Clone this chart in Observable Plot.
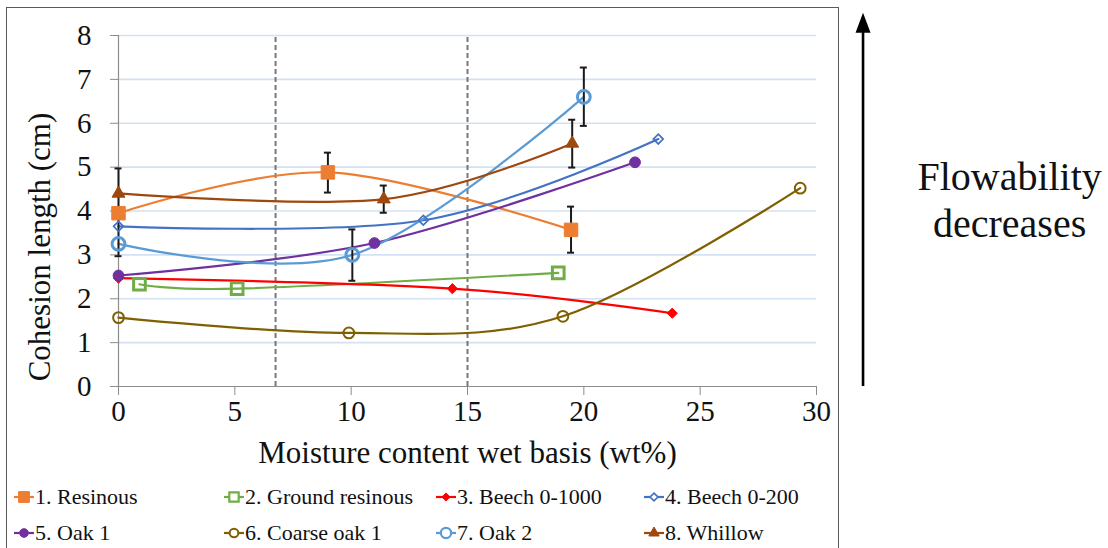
<!DOCTYPE html>
<html>
<head>
<meta charset="utf-8">
<script src="https://cdn.jsdelivr.net/npm/d3@7"></script>
<script src="https://cdn.jsdelivr.net/npm/@observablehq/plot@0.6"></script>
<style>
  body { margin: 0; background: #fff; }
  #wrap { position: relative; width: 1108px; height: 548px; overflow: hidden; font-family: 'Liberation Serif', 'Times New Roman', Times, 'DejaVu Serif', serif; }
  #chart { position: absolute; left: 0; top: 0; }
  #frame { position: absolute; left: 6px; top: 7px; width: 833px; height: 620px; border: 1px solid #5a5a5a; box-sizing: border-box; pointer-events: none; }
  #legend { position: absolute; left: 0; top: 0; width: 840px; height: 548px; }
  .item { position: absolute; display: flex; align-items: center; height: 26px; font-size: 22px; color: #111; white-space: nowrap; }
  .item svg { display: block; margin-right: 1px; }
</style>
</head>
<body>
<div id="wrap">
  <div id="chart"></div>
  <div id="legend"></div>
  <div id="frame"></div>
</div>
<script>
// ---------- data ----------
const xTicks = [0, 5, 10, 15, 20, 25, 30];
const yTicks = [0, 1, 2, 3, 4, 5, 6, 7, 8];
const dividers = [6.75, 15];

const names = ["1. Resinous", "2. Ground resinous", "3. Beech 0-1000", "4. Beech 0-200",
               "5. Oak 1", "6. Coarse oak 1", "7. Oak 2", "8. Whillow"];

const resinousX = [0, 9, 19.45];
const resinousY = [3.95, 4.88, 3.57];
const groundResinousX = [0.9, 5.1, 18.9];
const groundResinousY = [2.33, 2.23, 2.59];
const beech1000X = [0, 14.35, 23.8];
const beech1000Y = [2.47, 2.23, 1.67];
const beech200X = [0, 13.1, 23.2];
const beech200Y = [3.65, 3.79, 5.64];
const oak1X = [0, 11.0, 22.2];
const oak1Y = [2.53, 3.27, 5.11];
const coarseOakX = [0, 9.9, 19.1, 29.3];
const coarseOakY = [1.57, 1.22, 1.6, 4.52];
const oak2X = [0, 10.05, 20];
const oak2Y = [3.25, 3.0, 6.6];
const whillowX = [0, 11.4, 19.5];
const whillowY = [4.4, 4.27, 5.54];

// error bars
const resinousErrX = [0, 9, 19.45];
const resinousErrLo = [2.97, 4.42, 3.05];
const resinousErrHi = [4.97, 5.33, 4.1];
const oak2ErrX = [10.05, 20];
const oak2ErrLo = [2.41, 5.94];
const oak2ErrHi = [3.58, 7.27];
const whillowErrX = [11.4, 19.5];
const whillowErrLo = [3.96, 4.99];
const whillowErrHi = [4.58, 6.08];

// annotation (right side)
const annoText = ["Flowability\ndecreases"];
const arrowX = [32];
const arrowTop = [8.2];
const textX = [38.3];
const textY = [4.28];

// ---------- styles ----------
const serif = "'Liberation Serif', 'Times New Roman', Times, 'DejaVu Serif', serif";
const colors = ["#ED7D31", "#70AD47", "#FF0000", "#4472C4", "#7030A0", "#7F6000", "#5B9BD5", "#9E480E"];
const symbols = ["square", "square", "diamond2", "diamond2", "circle", "circle", "circle", "triangle"];
const filled = [true, false, true, false, true, false, false, true];
const markerR = [7.6, 6.6, 4.6, 4.4, 5.4, 5.4, 6.4, 4.8];
const markerSW = [1, 3, 1, 1.7, 1, 2, 3, 1];

const seriesX = [resinousX, groundResinousX, beech1000X, beech200X, oak1X, coarseOakX, oak2X, whillowX];
const seriesY = [resinousY, groundResinousY, beech1000Y, beech200Y, oak1Y, coarseOakY, oak2Y, whillowY];
const errX = {0: resinousErrX, 6: oak2ErrX, 7: whillowErrX};
const errLo = {0: resinousErrLo, 6: oak2ErrLo, 7: whillowErrLo};
const errHi = {0: resinousErrHi, 6: oak2ErrHi, 7: whillowErrHi};

const series = names.map((name, i) => seriesX[i].map((x, j) => ({name, x, y: seriesY[i][j]})));

const axisGray = "#8c8c8c";
const marks = [
  Plot.gridY({ticks: yTicks.filter(d => d > 0), stroke: "#D3E2F2", strokeOpacity: 1, strokeWidth: 1.6}),
  Plot.ruleX(dividers, {y1: 0, y2: 8, stroke: "#777", strokeWidth: 2, strokeDasharray: "5,3"}),
  Plot.ruleY([0], {stroke: axisGray, strokeWidth: 1.2}),
  Plot.ruleX([0], {stroke: axisGray, strokeWidth: 1.2}),
  Plot.axisY({ticks: yTicks, tickSize: 8, tickPadding: 19, fontSize: 29, fontFamily: serif, stroke: axisGray, label: null, tickFormat: d => String(d)}),
  Plot.axisX({ticks: xTicks, tickSize: 9, tickPadding: 5, fontSize: 29, fontFamily: serif, stroke: axisGray, label: null, tickFormat: d => String(d)}),
  Plot.text(["Moisture content wet basis (wt%)"], {frameAnchor: "bottom", dy: 76, fontSize: 31, fontFamily: serif, textAnchor: "middle"}),
  Plot.text(["Cohesion length (cm)"], {frameAnchor: "left", dx: -78, dy: 36, rotate: -90, fontSize: 31, fontFamily: serif, textAnchor: "middle"})
];

series.forEach((rows, i) => {
  marks.push(Plot.line(rows, {x: "x", y: "y", stroke: colors[i], strokeWidth: 2.2, curve: "cardinal"}));
});
series.forEach((rows, i) => {
  if (errX[i]) {
    const errs = errX[i].map((x, j) => ({x, lo: errLo[i][j], hi: errHi[i][j]}));
    marks.push(Plot.ruleX(errs, {x: "x", y1: "lo", y2: "hi", stroke: "#1a1a1a", strokeWidth: 2}));
    marks.push(Plot.ruleY(errs, {y: "lo", x1: "x", x2: "x", insetLeft: -3.5, insetRight: -3.5, stroke: "#1a1a1a", strokeWidth: 2}));
    marks.push(Plot.ruleY(errs, {y: "hi", x1: "x", x2: "x", insetLeft: -3.5, insetRight: -3.5, stroke: "#1a1a1a", strokeWidth: 2}));
  }
  marks.push(Plot.dot(rows, {
    x: "x", y: "y", symbol: symbols[i], r: markerR[i],
    fill: filled[i] ? colors[i] : "none",
    stroke: colors[i], strokeWidth: markerSW[i]
  }));
});

// arrow and annotation
const arrowHead = {
  draw(context, size) {
    context.moveTo(0, -10);
    context.lineTo(7.5, 10);
    context.lineTo(-7.5, 10);
    context.closePath();
  }
};
marks.push(Plot.ruleX(arrowX, {y1: 0, y2: arrowTop[0], stroke: "#000", strokeWidth: 2.6}));
marks.push(Plot.dot(arrowX, {x: d => d, y: () => arrowTop[0], symbol: arrowHead, r: 5, fill: "#000", stroke: "none", dy: -4}));
marks.push(Plot.text(annoText, {x: () => textX[0], y: () => textY[0], fontSize: 40, fontFamily: serif, lineHeight: 1.18, textAnchor: "middle"}));

const chart = Plot.plot({
  width: 1108,
  height: 470,
  marginLeft: 118,
  marginRight: 292,
  marginTop: 35,
  marginBottom: 84,
  x: {domain: [0, 30]},
  y: {domain: [0, 8]},
  style: {fontFamily: serif, fontSize: "29px", background: "transparent", overflow: "visible", color: "#111"},
  marks
});
document.getElementById("chart").appendChild(chart);

// ---------- legend ----------
const symMap = {square: d3.symbolSquare, diamond2: d3.symbolDiamond2, circle: d3.symbolCircle, triangle: d3.symbolTriangle};
const legendCols = [14, 224, 436, 644];
const legendRows = [497, 533];
const legend = d3.select("#legend");
names.forEach((name, i) => {
  const col = i % 4, row = Math.floor(i / 4);
  const item = legend.append("div").attr("class", "item")
    .style("left", legendCols[col] + "px")
    .style("top", (legendRows[row] - 13) + "px");
  const svg = item.append("svg").attr("width", 20).attr("height", 26);
  svg.append("line").attr("x1", 0).attr("x2", 20).attr("y1", 13).attr("y2", 13)
    .attr("stroke", colors[i]).attr("stroke-width", 2.2);
  const rr = markerR[i] * 0.8;
  svg.append("path").attr("transform", "translate(10,13)")
    .attr("d", d3.symbol(symMap[symbols[i]], Math.PI * rr * rr)())
    .attr("fill", filled[i] ? colors[i] : "white")
    .attr("stroke", colors[i]).attr("stroke-width", Math.min(markerSW[i], 2.2));
  item.append("span").text(name);
});
</script>
</body>
</html>
